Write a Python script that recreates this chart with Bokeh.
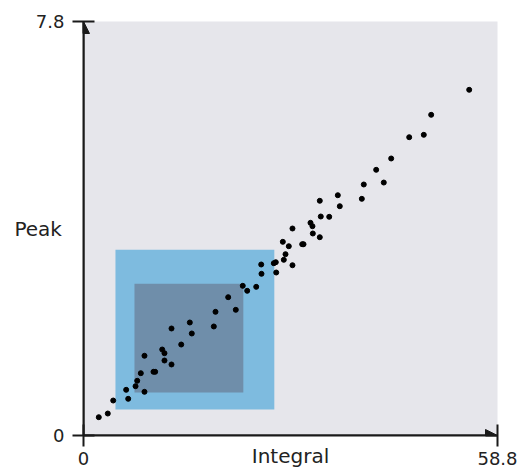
from bokeh.plotting import figure
from bokeh.models import Range1d, FixedTicker, Arrow, NormalHead
from bokeh.embed import file_html
from bokeh.resources import INLINE

# ---- data ----
x_max = 58.8
y_max = 7.8
x_ticks = [0, 58.8]
y_ticks = [0, 7.8]
x_tick_labels = ["0", "58.8"]
y_tick_labels = ["0", "7.8"]
x_title = "Integral"
y_title = "Peak"

integral = [2.17, 3.45, 4.22, 6.06, 6.35, 7.39, 7.63, 8.14, 8.66, 8.66,
            9.94, 10.18, 11.18, 11.50, 11.50, 12.50, 12.50, 13.88, 15.10, 15.38,
            18.51, 18.75, 20.55, 21.63, 22.62, 23.25, 24.53, 25.24, 25.28, 27.03,
            27.31, 27.37, 28.31, 29.16, 28.69, 28.45, 29.68, 29.68, 31.06, 31.25,
            32.24, 32.52, 32.57, 33.56, 33.56, 33.70, 34.90, 36.12, 36.40, 39.53,
            39.81, 41.57, 42.65, 43.70, 46.26, 48.33, 49.38, 54.78]
peak = [0.345, 0.414, 0.659, 0.861, 0.691, 0.929, 1.031, 1.174, 0.823, 1.502,
        1.200, 1.200, 1.620, 1.551, 1.413, 1.338, 2.016, 1.714, 2.129, 1.922,
        2.054, 2.330, 2.606, 2.368, 2.820, 2.726, 2.801, 3.222, 3.046, 3.246,
        3.265, 3.071, 3.649, 3.566, 3.416, 3.310, 3.208, 3.900, 3.604, 3.604,
        4.007, 3.943, 3.806, 3.736, 4.422, 4.126, 4.120, 4.527, 4.320, 4.459,
        4.729, 5.006, 4.766, 5.219, 5.620, 5.665, 6.042, 6.513]

rect_left = [4.54, 7.24]
rect_right = [27.1, 22.7]
rect_bottom = [0.49, 0.81]
rect_top = [3.50, 2.86]
rect_color = ["#7ebbdf", "#6f8eaa"]

# ---- figure ----
AXIS_COLOR = "#1a1a1a"
TEXT_COLOR = "#222222"
p = figure(width=522, height=470, output_backend="svg", toolbar_location=None,
           x_range=Range1d(0, x_max), y_range=Range1d(0, y_max),
           min_border_left=83, min_border_right=25,
           min_border_top=21, min_border_bottom=35)
p.background_fill_color = "#e6e6eb"
p.border_fill_color = "white"
p.outline_line_color = None
p.grid.visible = False

p.quad(left=rect_left, right=rect_right, bottom=rect_bottom, top=rect_top,
       fill_color=rect_color, line_color=None)
p.scatter(integral, peak, size=5, color="black")

for ax, ticks, labels in ((p.xaxis[0], x_ticks, x_tick_labels),
                          (p.yaxis[0], y_ticks, y_tick_labels)):
    ax.ticker = FixedTicker(ticks=ticks)
    ax.major_label_overrides = {t: l for t, l in zip(ticks, labels)}
    ax.minor_tick_line_color = None
    ax.major_tick_in = 11
    ax.major_tick_out = 11
    ax.major_tick_line_width = 2
    ax.major_tick_line_color = AXIS_COLOR
    ax.axis_line_width = 2
    ax.axis_line_color = AXIS_COLOR
    ax.major_label_text_font = "DejaVu Sans"
    ax.major_label_text_font_size = "18px"
    ax.major_label_text_color = TEXT_COLOR
    ax.axis_label_text_font = "DejaVu Sans"
    ax.axis_label_text_font_size = "20px"
    ax.axis_label_text_font_style = "normal"
    ax.axis_label_text_color = TEXT_COLOR

p.xaxis.major_label_standoff = 5
p.yaxis.major_label_standoff = 8

p.xaxis.axis_label = x_title
p.xaxis.axis_label_standoff = -24
p.yaxis.axis_label = y_title
p.yaxis.axis_label_orientation = "horizontal"
p.yaxis.axis_label_standoff = -29

head_kw = dict(size=12, fill_color=AXIS_COLOR, line_color=AXIS_COLOR, line_width=1)
p.add_layout(Arrow(end=NormalHead(**head_kw), x_start=0, y_start=0,
                   x_end=0, y_end=y_max, line_color=AXIS_COLOR, line_width=2))
p.add_layout(Arrow(end=NormalHead(**head_kw), x_start=0, y_start=0,
                   x_end=x_max, y_end=0, line_color=AXIS_COLOR, line_width=2))

open("out.html", "w").write(file_html(p, INLINE))
